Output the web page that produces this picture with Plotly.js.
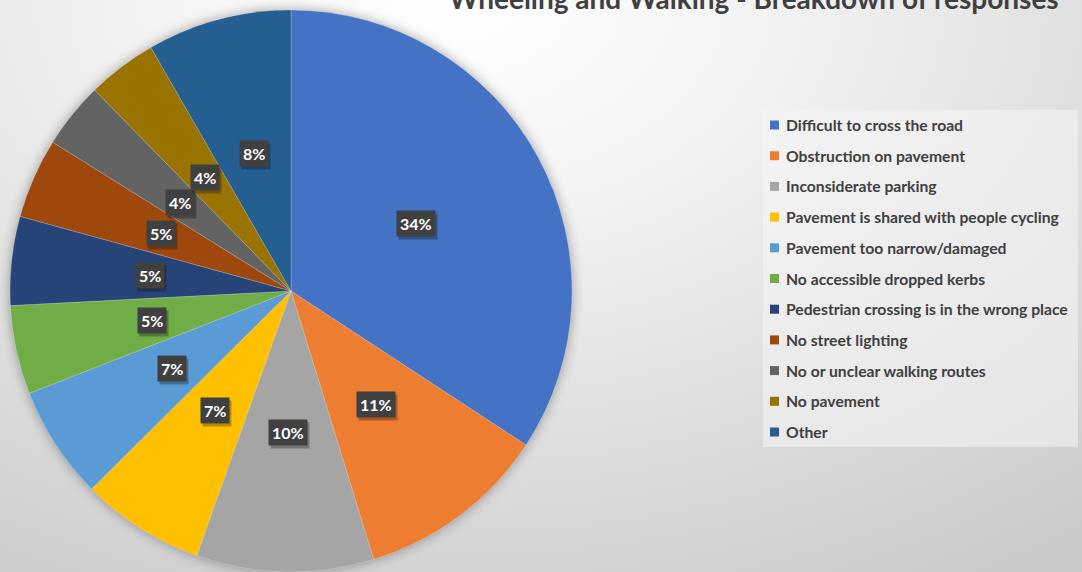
<!DOCTYPE html>
<html>
<head>
<meta charset="utf-8">
<script src="https://cdn.plot.ly/plotly-3.0.1.min.js"></script>
<style>
  html, body { margin: 0; padding: 0; }
  body {
    width: 1082px; height: 572px; overflow: hidden;
    background: radial-gradient(ellipse 95% 120% at 42% 0%, #ffffff 0%, #f3f3f3 30%, #dedede 65%, #c9c9c9 100%);
  }
  #chart { width: 1082px; height: 572px; }
</style>
</head>
<body>
<div id="chart"></div>
<script>
// ---- data ----
const chartTitle = "Wheeling and Walking - Breakdown of responses";
const categories = [
  "Difficult to cross the road",
  "Obstruction on pavement",
  "Inconsiderate parking",
  "Pavement is shared with people cycling",
  "Pavement too narrow/damaged",
  "No accessible dropped kerbs",
  "Pedestrian crossing is in the wrong place",
  "No street lighting",
  "No or unclear walking routes",
  "No pavement",
  "Other"
];
const values = [34.2, 11.0, 10.2, 7.1, 6.5, 5.1, 5.1, 4.6, 3.8, 4.0, 8.3];
const colors = ["#4472C4", "#ED7D31", "#A5A5A5", "#FFC000", "#5B9BD5", "#70AD47",
                "#264478", "#9E480E", "#636363", "#997300", "#255E91"];

// ---- layout constants ----
const W = 1082, H = 572;
const pieLeft = 9, pieRight = 573, pieTop = 10, pieBottom = 572;
const cx = (pieLeft + pieRight) / 2, cy = (pieTop + pieBottom) / 2;
const R = Math.min(pieRight - pieLeft, pieBottom - pieTop) / 2;
const labelFrac = 0.505;
const FONT = "Lato, 'Open Sans', sans-serif";

const total = values.reduce((a, b) => a + b, 0);

const trace = {
  type: "pie",
  labels: categories,
  values: values,
  sort: false,
  direction: "clockwise",
  rotation: 0,
  marker: { colors: colors, line: { color: "rgba(255,255,255,0.35)", width: 0.6 } },
  textinfo: "none",
  hoverinfo: "label+percent",
  showlegend: false,
  domain: { x: [pieLeft / W, pieRight / W], y: [1 - pieBottom / H, 1 - pieTop / H] }
};

const annotations = [];
const shapes = [];

// slice labels (dark boxes), positioned from the cumulative values
let cum = 0;
values.forEach((v, i) => {
  const mid = (cum + v / 2) / total;
  cum += v;
  const th = 2 * Math.PI * mid;
  const px = cx + labelFrac * R * Math.sin(th);
  const py = cy - labelFrac * R * Math.cos(th);
  const txt = Math.round(v / total * 100) + "%";
  const base = {
    x: px / W, y: 1 - py / H, xref: "paper", yref: "paper",
    showarrow: false, text: "<b>" + txt + "</b>",
    borderpad: 3, xanchor: "center", yanchor: "middle"
  };
  annotations.push(Object.assign({}, base, {
    font: { family: FONT, size: 16, color: "rgba(0,0,0,0)" },
    bgcolor: "rgba(0,0,0,0.28)", xshift: 2, yshift: -3
  }));
  annotations.push(Object.assign({}, base, {
    font: { family: FONT, size: 16, color: "#ffffff" },
    bgcolor: "#404040"
  }));
});

// legend box
const legX0 = 763, legX1 = 1078, legY0 = 110, legY1 = 447;
shapes.push({
  type: "rect", xref: "paper", yref: "paper",
  x0: legX0 / W, x1: legX1 / W, y0: 1 - legY1 / H, y1: 1 - legY0 / H,
  fillcolor: "rgba(245,245,245,0.55)", line: { width: 0 }, layer: "below"
});
const legFirst = 125, legStep = 30.7;
categories.forEach((c, i) => {
  const yc = legFirst + i * legStep;
  shapes.push({
    type: "rect", xref: "paper", yref: "paper",
    x0: 770 / W, x1: 779 / W, y0: 1 - (yc + 4.5) / H, y1: 1 - (yc - 4.5) / H,
    fillcolor: colors[i], line: { width: 0 }
  });
  annotations.push({
    x: 784 / W, y: 1 - yc / H, xref: "paper", yref: "paper",
    xanchor: "left", yanchor: "middle", showarrow: false,
    text: "<b>" + c + "</b>",
    font: { family: FONT, size: 15.7, color: "#404040" }
  });
});

// title (cut at top as in the reference)
annotations.push({
  x: 447 / W, y: 1, xref: "paper", yref: "paper",
  xanchor: "left", yanchor: "bottom", yshift: -17, showarrow: false,
  text: "<b>" + chartTitle + "</b>",
  font: { family: FONT, size: 28, color: "#404040" }
});

const layout = {
  width: W, height: H,
  margin: { l: 0, r: 0, t: 0, b: 0 },
  paper_bgcolor: "rgba(0,0,0,0)",
  plot_bgcolor: "rgba(0,0,0,0)",
  showlegend: false,
  annotations: annotations,
  shapes: shapes
};

Plotly.newPlot("chart", [trace], layout, { displayModeBar: false, staticPlot: true }).then(() => {
  const pl = document.querySelector(".pielayer");
  if (pl) pl.style.filter = "drop-shadow(0px 0px 6px rgba(0,0,0,0.35))";
});
</script>
</body>
</html>
